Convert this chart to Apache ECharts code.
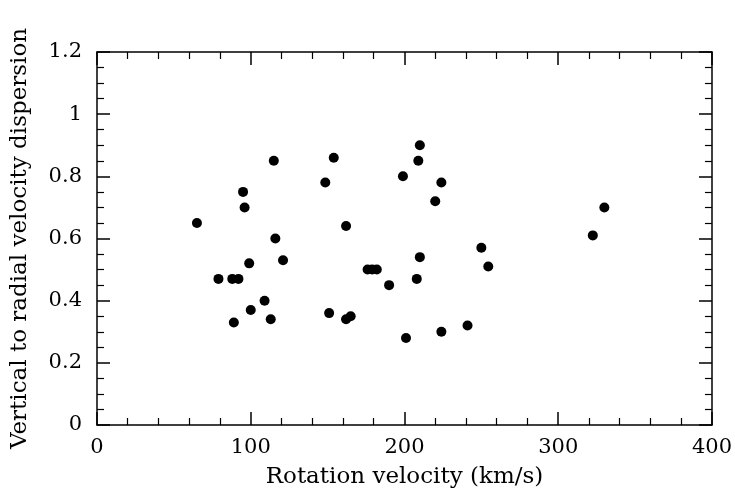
<!DOCTYPE html>
<html>
<head>
<meta charset="utf-8">
<script src="https://cdn.jsdelivr.net/npm/echarts@6/dist/echarts.min.js"></script>
<style>
  html, body { margin: 0; padding: 0; background: #fff; }
  #chart { width: 735px; height: 494px; }
</style>
</head>
<body>
<div id="chart"></div>
<script>
// rotation velocity (km/s)
var rotVel = [65, 79, 88, 92, 89, 95, 96, 99, 100, 109, 113, 115, 116, 121,
	148.5, 154, 151, 162, 162, 165, 176, 179, 182, 190, 199, 201, 209, 210,
	208, 210, 220, 224, 224, 241, 250, 254.5, 322.5, 330];
// vertical to radial velocity dispersion
var dispRatio = [0.65, 0.47, 0.47, 0.47, 0.33, 0.75, 0.70, 0.52, 0.37, 0.40,
	0.34, 0.85, 0.60, 0.53, 0.78, 0.86, 0.36, 0.64, 0.34, 0.35, 0.50, 0.50,
	0.50, 0.45, 0.80, 0.28, 0.85, 0.90, 0.47, 0.54, 0.72, 0.78, 0.30, 0.32,
	0.57, 0.51, 0.61, 0.70];

var xTicks = [0, 100, 200, 300, 400];
var yTicks = [0, 0.2, 0.4, 0.6, 0.8, 1, 1.2];

var points = [];
for (var i = 0; i < rotVel.length; i++) {
	points.push([rotVel[i], dispRatio[i]]);
}

var font = '"DejaVu Serif", serif';
var lineStyle = { color : '#000', width : 1.5 };

function xAxisDef(pos, labels) {
	return {
		type : 'value',
		position : pos,
		min : xTicks[0],
		max : xTicks[xTicks.length - 1],
		interval : 100,
		axisLine : { show : true, onZero : false, lineStyle : lineStyle },
		axisTick : { show : true, inside : true, length : 13, lineStyle : lineStyle },
		minorTick : { show : true, splitNumber : 5, length : 7, lineStyle : { color : '#000', width : 1.2 } },
		splitLine : { show : false },
		axisLabel : { show : labels, margin : 12, color : '#000', fontFamily : font, fontSize : 21 },
		name : labels ? 'Rotation velocity (km/s)' : '',
		nameLocation : 'middle',
		nameGap : 41,
		nameTextStyle : { color : '#000', fontFamily : font, fontSize : 23 }
	};
}

function yAxisDef(pos, labels) {
	return {
		type : 'value',
		position : pos,
		min : yTicks[0],
		max : yTicks[yTicks.length - 1],
		interval : 0.2,
		axisLine : { show : true, onZero : false, lineStyle : lineStyle },
		axisTick : { show : true, inside : true, length : 13, lineStyle : lineStyle },
		minorTick : { show : true, splitNumber : 4, length : 7, lineStyle : { color : '#000', width : 1.2 } },
		splitLine : { show : false },
		axisLabel : {
			show : labels, margin : 15, color : '#000', fontFamily : font, fontSize : 21,
			formatter : function(v) { return String(Math.round(v * 10) / 10); }
		},
		name : labels ? 'Vertical to radial velocity dispersion' : '',
		nameLocation : 'middle',
		nameGap : 65,
		nameTextStyle : { color : '#000', fontFamily : font, fontSize : 23 }
	};
}

var chart = echarts.init(document.getElementById('chart'), null, { renderer : 'canvas' });
chart.setOption({
	animation : false,
	backgroundColor : '#fff',
	grid : { left : 97, right : 23, top : 52, bottom : 68 },
	xAxis : [ xAxisDef('bottom', true), xAxisDef('top', false) ],
	yAxis : [ yAxisDef('left', true), yAxisDef('right', false) ],
	series : [ {
		type : 'scatter',
		xAxisIndex : 0,
		yAxisIndex : 0,
		symbol : 'circle',
		symbolSize : 10,
		itemStyle : { color : '#000', opacity : 1 },
		data : points
	} ]
});
</script>
</body>
</html>
